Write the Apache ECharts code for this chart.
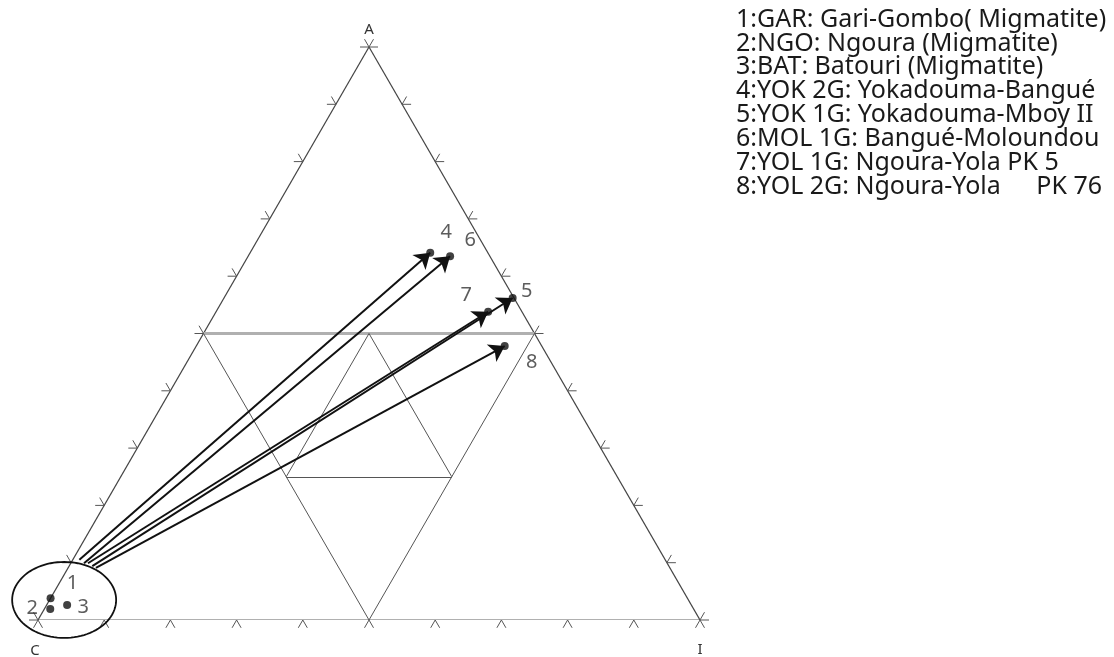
<!DOCTYPE html>
<html><head><meta charset="utf-8">
<script src="https://cdn.jsdelivr.net/npm/echarts@6/dist/echarts.min.js"></script>
<style>html,body{margin:0;padding:0;background:#fff}#c{width:1114px;height:657px}</style>
</head><body><div id="c"></div>
<script>
// ---- DATA (ternary percentages: A, I ; C = 100 - A - I) ----
const clusterIds = ['1', '2', '3'];
const clusterA = [3.8, 1.9, 2.6];
const clusterI = [0.0, 0.9, 3.1];

const arrowIds = ['4', '6', '7', '5', '8'];
const arrowStartA = [10.5, 9.9, 9.9, 9.4, 9.1];
const arrowStartI = [1.0, 2.0, 2.6, 3.5, 4.2];
const arrowEndA = [64.1, 63.5, 53.8, 56.2, 47.8];
const arrowEndI = [27.2, 30.5, 41.1, 43.6, 46.6];

const ellipseCenterA = [3.5];
const ellipseCenterI = [2.2];

const tickValues = [0, 10, 20, 30, 40, 50, 60, 70, 80, 90, 100];
const vertexNames = ['A', 'C', 'I'];
const vertexA = [100, 0, 0];
const vertexI = [0, 0, 100];

const legendLabels = [
  '1:GAR: Gari-Gombo( Migmatite)',
  '2:NGO: Ngoura (Migmatite)',
  '3:BAT: Batouri (Migmatite)',
  '4:YOK 2G: Yokadouma-Bangué',
  '5:YOK 1G: Yokadouma-Mboy II',
  '6:MOL 1G: Bangué-Moloundou',
  '7:YOL 1G: Ngoura-Yola PK 5',
  '8:YOL 2G: Ngoura-Yola'
];
const legendExtra = ['', '', '', '', '', '', '', 'PK 76'];

// grid line segments in ternary [A, I]
const gridSegA = [[50, 50], [50, 0], [50, 0], [50, 25], [50, 25], [25, 25]];
const gridSegI = [[0, 50], [0, 50], [50, 50], [25, 25], [25, 50], [25, 50]];

// ---- helpers ----
const S3 = Math.sqrt(3) / 2;
function toXY(a, i) { return [i + a / 2, a * S3]; }

const clusterLabelOffsets = [[22, -15], [-18, -1], [16, 2]];
const arrowLabelOffsets = [[16, -20], [20, -16], [-22, -16], [14, -7], [27, 16]];
const vertexLabelOffsets = [[0, -17], [-3, 31], [0, 30]];

const chart = echarts.init(document.getElementById('c'), null, {renderer: 'canvas'});

const sideData = [
  {coords: [toXY(0, 0), toXY(0, 100)], lineStyle: {color: '#b0b0b0', width: 3, opacity: 1}},
  {coords: [toXY(0, 0), toXY(100, 0)], lineStyle: {color: '#444', width: 1.2, opacity: 1}},
  {coords: [toXY(0, 100), toXY(100, 0)], lineStyle: {color: '#444', width: 1.2, opacity: 1}}
];
const gridData = gridSegA.map((sa, k) => ({
  coords: [toXY(sa[0], gridSegI[k][0]), toXY(sa[1], gridSegI[k][1])],
  lineStyle: k === 0 ? {color: '#b0b0b0', width: 3, opacity: 1} : {color: '#555', width: 1, opacity: 1}
}));

const tickDirs = [
  [[-0.5, S3], [0.5, S3]],
  [[-1, 0], [-0.5, -S3]],
  [[1, 0], [0.5, -S3]]
];
const tickData = [];
[0, 1, 2].forEach(s => tickValues.forEach(v => tickData.push([s, v])));

const arrowData = arrowIds.map((id, k) => ({
  coords: [toXY(arrowStartA[k], arrowStartI[k]), toXY(arrowEndA[k], arrowEndI[k])]
}));

const dotData = [];
clusterIds.forEach((id, k) => dotData.push({
  name: id, value: toXY(clusterA[k], clusterI[k]),
  label: {offset: clusterLabelOffsets[k]}
}));
arrowIds.forEach((id, k) => dotData.push({
  name: id, value: toXY(arrowEndA[k], arrowEndI[k]),
  label: {offset: arrowLabelOffsets[k]}
}));

const vertexData = vertexNames.map((n, k) => ({
  name: n, value: toXY(vertexA[k], vertexI[k]), label: {offset: vertexLabelOffsets[k]}
}));

const LEG_FONT = '25px "Noto Sans"';
const legendGraphics = legendLabels.map((t, k) => ({
  type: 'text', left: 736, top: 7 + k * 23.9,
  style: {text: t, font: LEG_FONT, fill: '#1a1a1a'}
}));
legendExtra.forEach((t, k) => {
  if (t) legendGraphics.push({
    type: 'text', right: 12, top: 7 + k * 23.9,
    style: {text: t, font: LEG_FONT, fill: '#1a1a1a'}
  });
});

chart.setOption({
  animation: false,
  backgroundColor: '#fff',
  grid: {left: 38, top: 47, width: 662, height: 573},
  xAxis: {type: 'value', min: 0, max: 100, show: false},
  yAxis: {type: 'value', min: 0, max: 100 * S3, show: false},
  graphic: legendGraphics,
  series: [
    {type: 'lines', coordinateSystem: 'cartesian2d', data: sideData, z: 1, symbol: 'none', silent: true, lineStyle: {opacity: 1}},
    {type: 'lines', coordinateSystem: 'cartesian2d', data: gridData, z: 1, symbol: 'none', silent: true, lineStyle: {opacity: 1}},
    {
      type: 'custom', coordinateSystem: 'cartesian2d', data: tickData, z: 1, clip: false, silent: true,
      renderItem: function (params, api) {
        const side = api.value(0), v = api.value(1);
        let a, i;
        if (side === 0) { a = 0; i = v; }
        else if (side === 1) { a = v; i = 0; }
        else { a = v; i = 100 - v; }
        const p = api.coord(toXY(a, i));
        const L = 9;
        return {
          type: 'group',
          children: tickDirs[side].map(d => ({
            type: 'line',
            shape: {x1: p[0], y1: p[1], x2: p[0] + d[0] * L, y2: p[1] + d[1] * L},
            style: {stroke: '#555', lineWidth: 1}
          }))
        };
      }
    },
    {
      type: 'custom', coordinateSystem: 'cartesian2d', z: 2, clip: false, silent: true,
      data: ellipseCenterA.map((a, k) => toXY(a, ellipseCenterI[k])),
      renderItem: function (params, api) {
        const c = api.coord([api.value(0), api.value(1)]);
        const pts = [];
        for (let t = 0; t < 96; t++) {
          const ang = t / 96 * Math.PI * 2;
          pts.push([c[0] + 52 * Math.cos(ang), c[1] + 38 * Math.sin(ang)]);
        }
        return {type: 'polygon', shape: {points: pts}, style: {fill: 'none', stroke: '#111', lineWidth: 1.8}};
      }
    },
    {
      type: 'lines', coordinateSystem: 'cartesian2d', data: arrowData, z: 3, silent: true,
      symbol: ['none', 'arrow'], symbolSize: 15,
      lineStyle: {color: '#111', width: 2, opacity: 1}
    },
    {
      type: 'scatter', data: dotData, z: 4, symbolSize: 8, silent: true,
      itemStyle: {color: '#111'},
      label: {
        show: true, position: 'inside', formatter: '{b}',
        color: '#333', fontSize: 20, fontFamily: 'Noto Sans',
        align: 'center', verticalAlign: 'middle'
      }
    },
    {
      type: 'custom', coordinateSystem: 'cartesian2d', z: 4, clip: false, silent: true,
      data: vertexData.map(d => d.value),
      renderItem: function (params, api) {
        const p = api.coord([api.value(0), api.value(1)]);
        const off = vertexLabelOffsets[params.dataIndex];
        return {
          type: 'text',
          x: p[0] + off[0], y: p[1] + off[1],
          style: {
            text: vertexNames[params.dataIndex], fill: '#333',
            font: '15px "Noto Sans"', align: 'center', verticalAlign: 'middle'
          }
        };
      }
    }
  ]
});
</script>
</body></html>
